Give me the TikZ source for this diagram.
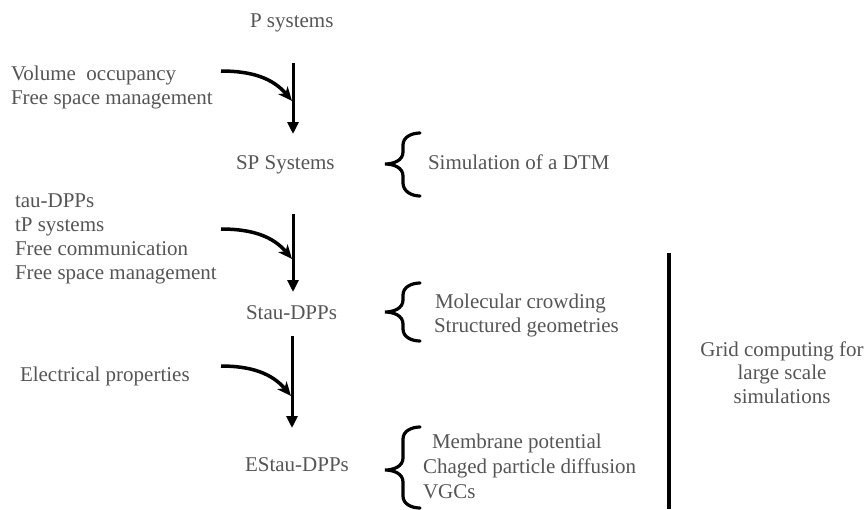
\documentclass[tikz,border=0pt]{standalone}
\usepackage{fontspec}
\setmainfont{Liberation Serif}
\usetikzlibrary{arrows.meta}
\definecolor{txtgray}{HTML}{555555}
\begin{document}
\begin{tikzpicture}[x=1pt,y=-1pt,
  lbl/.style={inner sep=0pt,outer sep=0pt,text=txtgray,font=\fontsize{21}{24.5}\selectfont,anchor=base west},
  main/.style={line width=3pt,-{Triangle[length=12pt,width=11pt]}},
  side/.style={line width=3.5pt,-{Stealth[length=14pt,width=12pt,inset=4pt]}},
  bracel/.style={line width=3.2pt,line cap=round},
  gridline/.style={line width=4pt}]
\useasboundingbox (0,0) rectangle (866,509);
% nodes
\node[lbl] (p) at (250,27) {P systems};
\node[lbl] (sp) at (236,169) {SP Systems};
\node[lbl] (st) at (246,319) {Stau-DPPs};
\node[lbl] (est) at (245,471) {EStau-DPPs};
\node[lbl] (vo) at (11,80) {Volume\ \ occupancy};
\node[lbl] (fs1) at (11,104) {Free space management};
\node[lbl] (tau) at (15,207) {tau-DPPs};
\node[lbl] (tp) at (15,231) {tP systems};
\node[lbl] (fc) at (15,255) {Free communication};
\node[lbl] (fs2) at (15,279) {Free space management};
\node[lbl] (el) at (20,381) {Electrical properties};
\node[lbl] (sim) at (428,169) {Simulation of a DTM};
\node[lbl] (mol) at (435,308) {Molecular crowding};
\node[lbl] (str) at (434,332) {Structured geometries};
\node[lbl] (mem) at (432,448) {Membrane potential};
\node[lbl] (chg) at (423,473) {Chaged particle diffusion};
\node[lbl] (vgc) at (423,498) {VGCs};
\node[lbl,anchor=base,align=center,font=\fontsize{21}{23.5}\selectfont] (grid) at (782,403) {Grid computing for\\large scale\\simulations};
% coordinates for arrows
\coordinate (a1s) at (293,63);  \coordinate (a1e) at (293,134);
\coordinate (c1s) at (221,71);  \coordinate (c1e) at (292,101);
\coordinate (a2s) at (293,214); \coordinate (a2e) at (293,292);
\coordinate (c2s) at (221,229); \coordinate (c2e) at (292,259);
\coordinate (a3s) at (292,336); \coordinate (a3e) at (292,428);
\coordinate (c3s) at (221,366); \coordinate (c3e) at (291,396);
\draw[main] (a1s) -- (a1e);
\draw[main] (a2s) -- (a2e);
\draw[main] (a3s) -- (a3e);
\draw[side] (c1s) to[out=0,in=130] (c1e);
\draw[side] (c2s) to[out=0,in=130] (c2e);
\draw[side] (c3s) to[out=0,in=130] (c3e);
% braces
\draw[bracel] (420,133) to[out=180,in=90] (403,145) -- (403,152) to[out=-90,in=0] (385,164)
  to[out=0,in=90] (403,176) -- (403,183) to[out=-90,in=180] (420,196);
\draw[bracel] (420,283) to[out=180,in=90] (403,295) -- (403,300) to[out=-90,in=0] (385,312)
  to[out=0,in=90] (403,324) -- (403,329) to[out=-90,in=180] (420,341);
\draw[bracel] (420,427) to[out=180,in=90] (403,439) -- (403,458) to[out=-90,in=0] (385,470)
  to[out=0,in=90] (403,482) -- (403,496) to[out=-90,in=180] (420,508);
% grid line
\coordinate (g1) at (669,253); \coordinate (g2) at (669,509);
\draw[gridline] (g1) -- (g2);
\end{tikzpicture}
\end{document}
